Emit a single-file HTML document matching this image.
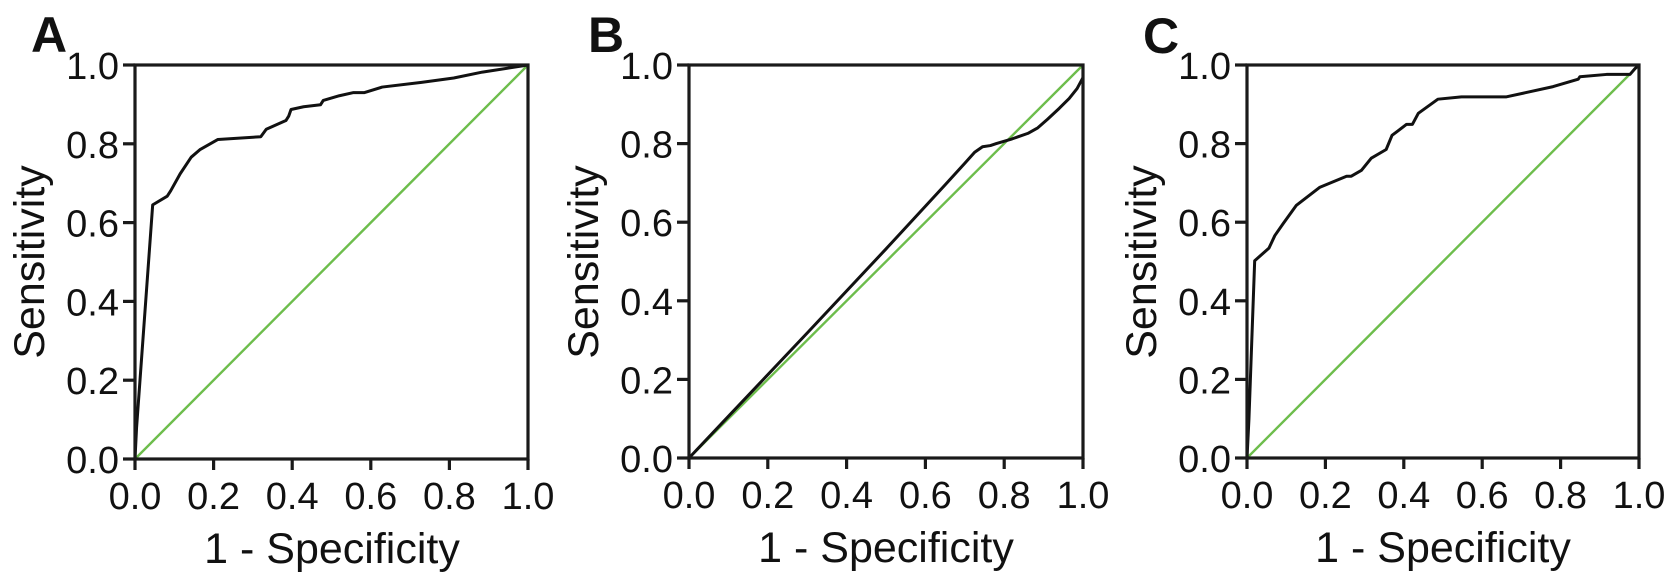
<!DOCTYPE html>
<html>
<head>
<meta charset="utf-8">
<style>
  html, body { margin: 0; padding: 0; background: #ffffff; }
  svg { display: block; }
  text { font-family: "Liberation Sans", Arial, sans-serif; fill: #111; }
  .tick { font-size: 38px; }
  .title { font-size: 43px; }
  .plabel { font-size: 50px; font-weight: bold; }
  .ax { stroke: #1a1a1a; stroke-width: 3.2; fill: none; }
  .curve { stroke: #111; stroke-width: 3; fill: none; stroke-linejoin: round; }
  .diag { stroke: #6dbd4c; stroke-width: 2.4; fill: none; }
</style>
</head>
<body>
<svg width="1677" height="585" viewBox="0 0 1677 585" xmlns="http://www.w3.org/2000/svg">

  <!-- ================= PANEL A ================= -->
  <text class="plabel" x="31" y="52">A</text>
  <g transform="translate(135,459) scale(393,-394)">
    <polyline class="diag" vector-effect="non-scaling-stroke" points="0,0 1,1"/>
    <polyline class="curve" vector-effect="non-scaling-stroke" points="
      0,0 0.004,0.08 0.045,0.645 0.082,0.667 0.091,0.681 0.115,0.724 0.143,0.766 0.165,0.785
      0.211,0.811 0.32,0.818 0.334,0.837 0.384,0.859 0.391,0.870 0.397,0.887 0.429,0.894
      0.472,0.899 0.479,0.910 0.52,0.922 0.556,0.930 0.584,0.930 0.629,0.944 0.729,0.956
      0.811,0.967 0.884,0.982 1,1"/>
  </g>
  <rect class="ax" x="135" y="65" width="393" height="394"/>
  <g class="ax">
    <line x1="123" y1="459" x2="135" y2="459"/>
    <line x1="123" y1="380.2" x2="135" y2="380.2"/>
    <line x1="123" y1="301.4" x2="135" y2="301.4"/>
    <line x1="123" y1="222.6" x2="135" y2="222.6"/>
    <line x1="123" y1="143.8" x2="135" y2="143.8"/>
    <line x1="123" y1="65" x2="135" y2="65"/>
    <line x1="135" y1="459" x2="135" y2="470"/>
    <line x1="213.6" y1="459" x2="213.6" y2="470"/>
    <line x1="292.2" y1="459" x2="292.2" y2="470"/>
    <line x1="370.8" y1="459" x2="370.8" y2="470"/>
    <line x1="449.4" y1="459" x2="449.4" y2="470"/>
    <line x1="528" y1="459" x2="528" y2="470"/>
  </g>
  <g class="tick" text-anchor="end">
    <text x="119" y="473">0.0</text>
    <text x="119" y="394.2">0.2</text>
    <text x="119" y="315.4">0.4</text>
    <text x="119" y="236.6">0.6</text>
    <text x="119" y="157.8">0.8</text>
    <text x="119" y="79">1.0</text>
  </g>
  <g class="tick" text-anchor="middle">
    <text x="135" y="509">0.0</text>
    <text x="213.6" y="509">0.2</text>
    <text x="292.2" y="509">0.4</text>
    <text x="370.8" y="509">0.6</text>
    <text x="449.4" y="509">0.8</text>
    <text x="528" y="509">1.0</text>
  </g>
  <text class="title" x="332" y="563" text-anchor="middle">1 - Specificity</text>
  <text class="title" transform="translate(44,262) rotate(-90)" text-anchor="middle">Sensitivity</text>

  <!-- ================= PANEL B ================= -->
  <text class="plabel" x="588" y="52">B</text>
  <g transform="translate(689,458) scale(394,-393)">
    <polyline class="diag" vector-effect="non-scaling-stroke" points="0,0 1,1"/>
    <polyline class="curve" vector-effect="non-scaling-stroke" points="
      0,0 0.1,0.106 0.3,0.318 0.5,0.532 0.65,0.695 0.7,0.75 0.725,0.778 0.745,0.792
      0.765,0.795 0.78,0.80 0.82,0.812 0.86,0.826 0.885,0.84 0.91,0.862 0.94,0.89
      0.965,0.915 0.985,0.94 1,0.968"/>
  </g>
  <rect class="ax" x="689" y="65" width="394" height="393"/>
  <g class="ax">
    <line x1="677" y1="458" x2="689" y2="458"/>
    <line x1="677" y1="379.4" x2="689" y2="379.4"/>
    <line x1="677" y1="300.8" x2="689" y2="300.8"/>
    <line x1="677" y1="222.2" x2="689" y2="222.2"/>
    <line x1="677" y1="143.6" x2="689" y2="143.6"/>
    <line x1="677" y1="65" x2="689" y2="65"/>
    <line x1="689" y1="458" x2="689" y2="469"/>
    <line x1="767.8" y1="458" x2="767.8" y2="469"/>
    <line x1="846.6" y1="458" x2="846.6" y2="469"/>
    <line x1="925.4" y1="458" x2="925.4" y2="469"/>
    <line x1="1004.2" y1="458" x2="1004.2" y2="469"/>
    <line x1="1083" y1="458" x2="1083" y2="469"/>
  </g>
  <g class="tick" text-anchor="end">
    <text x="673" y="472">0.0</text>
    <text x="673" y="393.4">0.2</text>
    <text x="673" y="314.8">0.4</text>
    <text x="673" y="236.2">0.6</text>
    <text x="673" y="157.6">0.8</text>
    <text x="673" y="79">1.0</text>
  </g>
  <g class="tick" text-anchor="middle">
    <text x="689" y="508">0.0</text>
    <text x="767.8" y="508">0.2</text>
    <text x="846.6" y="508">0.4</text>
    <text x="925.4" y="508">0.6</text>
    <text x="1004.2" y="508">0.8</text>
    <text x="1083" y="508">1.0</text>
  </g>
  <text class="title" x="886" y="562" text-anchor="middle">1 - Specificity</text>
  <text class="title" transform="translate(598,262) rotate(-90)" text-anchor="middle">Sensitivity</text>

  <!-- ================= PANEL C ================= -->
  <text class="plabel" x="1143" y="53">C</text>
  <g transform="translate(1247,458) scale(392,-393)">
    <polyline class="diag" vector-effect="non-scaling-stroke" points="0,0 1,1"/>
    <polyline class="curve" vector-effect="non-scaling-stroke" points="
      0,0 0.005,0.1 0.0196,0.502 0.056,0.534 0.071,0.566 0.092,0.596 0.126,0.643
      0.186,0.689 0.254,0.717 0.266,0.717 0.292,0.732 0.317,0.763 0.355,0.785 0.37,0.821
      0.407,0.849 0.422,0.849 0.437,0.877 0.487,0.913 0.547,0.919 0.662,0.919 0.781,0.945
      0.845,0.964 0.849,0.970 0.917,0.976 0.977,0.976 0.99,0.991 1,1"/>
  </g>
  <rect class="ax" x="1247" y="65" width="392" height="393"/>
  <g class="ax">
    <line x1="1235" y1="458" x2="1247" y2="458"/>
    <line x1="1235" y1="379.4" x2="1247" y2="379.4"/>
    <line x1="1235" y1="300.8" x2="1247" y2="300.8"/>
    <line x1="1235" y1="222.2" x2="1247" y2="222.2"/>
    <line x1="1235" y1="143.6" x2="1247" y2="143.6"/>
    <line x1="1235" y1="65" x2="1247" y2="65"/>
    <line x1="1247" y1="458" x2="1247" y2="469"/>
    <line x1="1325.4" y1="458" x2="1325.4" y2="469"/>
    <line x1="1403.8" y1="458" x2="1403.8" y2="469"/>
    <line x1="1482.2" y1="458" x2="1482.2" y2="469"/>
    <line x1="1560.6" y1="458" x2="1560.6" y2="469"/>
    <line x1="1639" y1="458" x2="1639" y2="469"/>
  </g>
  <g class="tick" text-anchor="end">
    <text x="1231" y="472">0.0</text>
    <text x="1231" y="393.4">0.2</text>
    <text x="1231" y="314.8">0.4</text>
    <text x="1231" y="236.2">0.6</text>
    <text x="1231" y="157.6">0.8</text>
    <text x="1231" y="79">1.0</text>
  </g>
  <g class="tick" text-anchor="middle">
    <text x="1247" y="508">0.0</text>
    <text x="1325.4" y="508">0.2</text>
    <text x="1403.8" y="508">0.4</text>
    <text x="1482.2" y="508">0.6</text>
    <text x="1560.6" y="508">0.8</text>
    <text x="1639" y="508">1.0</text>
  </g>
  <text class="title" x="1443" y="562" text-anchor="middle">1 - Specificity</text>
  <text class="title" transform="translate(1156,262) rotate(-90)" text-anchor="middle">Sensitivity</text>

</svg>
</body>
</html>
